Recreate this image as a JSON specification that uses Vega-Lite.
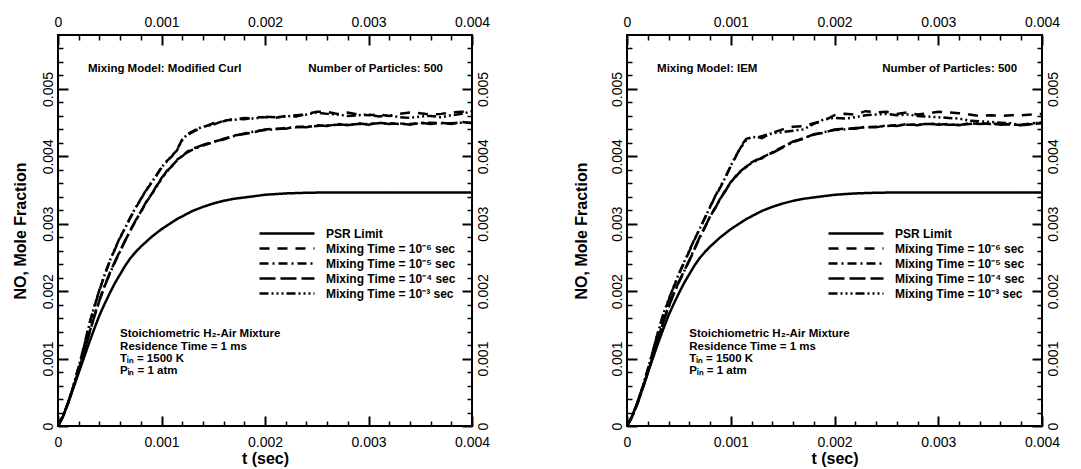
{
  "$schema": "https://vega.github.io/schema/vega-lite/v6.json",
  "padding": {"left": 11, "top": 14, "right": 0, "bottom": 0},
  "spacing": 81,
  "config": {
    "font": "Liberation Sans",
    "view": {"stroke": "black", "strokeWidth": 2},
    "axis": {"grid": false, "domain": false, "labelFont": "Liberation Sans", "labelFontSize": 14, "labelColor": "black", "tickColor": "black", "titleColor": "black", "labelFlush": false, "labelOverlap": false, "labelBound": false}
  },
  "resolve": {"scale": {"strokeDash": "independent"}, "legend": {"strokeDash": "independent"}},
  "datasets": {
    "curl": [
      {"t":0,"psr":0,"m6":0,"m5":0,"m4":0,"m3":0},
      {"t":0.00005,"psr":0.00015,"m6":0.00015,"m5":0.00015,"m4":0.00015,"m3":0.00015},
      {"t":0.0001,"psr":0.00035,"m6":0.00036,"m5":0.00035,"m4":0.00035,"m3":0.00036},
      {"t":0.00015,"psr":0.00057,"m6":0.0006,"m5":0.00058,"m4":0.00058,"m3":0.00061},
      {"t":0.0002,"psr":0.00079,"m6":0.00087,"m5":0.00083,"m4":0.00082,"m3":0.00088},
      {"t":0.00025,"psr":0.00101,"m6":0.00118,"m5":0.0011,"m4":0.00109,"m3":0.00117},
      {"t":0.0003,"psr":0.00123,"m6":0.0015,"m5":0.00137,"m4":0.00136,"m3":0.00149},
      {"t":0.00035,"psr":0.00144,"m6":0.00176,"m5":0.00163,"m4":0.00162,"m3":0.00177},
      {"t":0.0004,"psr":0.00164,"m6":0.00201,"m5":0.00187,"m4":0.00186,"m3":0.00202},
      {"t":0.00045,"psr":0.00181,"m6":0.00224,"m5":0.00208,"m4":0.00207,"m3":0.00224},
      {"t":0.0005,"psr":0.00197,"m6":0.00244,"m5":0.00226,"m4":0.00227,"m3":0.00245},
      {"t":0.00055,"psr":0.00212,"m6":0.00262,"m5":0.00243,"m4":0.00244,"m3":0.00263},
      {"t":0.0006,"psr":0.00225,"m6":0.00279,"m5":0.00259,"m4":0.0026,"m3":0.0028},
      {"t":0.00065,"psr":0.00238,"m6":0.00295,"m5":0.00276,"m4":0.00275,"m3":0.00294},
      {"t":0.0007,"psr":0.00249,"m6":0.00309,"m5":0.0029,"m4":0.00291,"m3":0.0031},
      {"t":0.00075,"psr":0.00258,"m6":0.00323,"m5":0.00304,"m4":0.00305,"m3":0.00324},
      {"t":0.0008,"psr":0.00266,"m6":0.00337,"m5":0.00318,"m4":0.00317,"m3":0.00336},
      {"t":0.00085,"psr":0.00273,"m6":0.00349,"m5":0.00331,"m4":0.00332,"m3":0.0035},
      {"t":0.0009,"psr":0.0028,"m6":0.0036,"m5":0.00343,"m4":0.00342,"m3":0.00361},
      {"t":0.00095,"psr":0.00286,"m6":0.00372,"m5":0.00354,"m4":0.00356,"m3":0.00371},
      {"t":0.001,"psr":0.00292,"m6":0.00383,"m5":0.00368,"m4":0.00366,"m3":0.00384},
      {"t":0.00105,"psr":0.00297,"m6":0.00393,"m5":0.00377,"m4":0.00378,"m3":0.00392},
      {"t":0.0011,"psr":0.00302,"m6":0.004,"m5":0.00386,"m4":0.00385,"m3":0.00401},
      {"t":0.00115,"psr":0.00307,"m6":0.0041,"m5":0.00394,"m4":0.00395,"m3":0.00409},
      {"t":0.0012,"psr":0.00311,"m6":0.00425,"m5":0.00401,"m4":0.004,"m3":0.00424},
      {"t":0.00125,"psr":0.00315,"m6":0.00432,"m5":0.00406,"m4":0.00407,"m3":0.00433},
      {"t":0.0013,"psr":0.00319,"m6":0.00436,"m5":0.0041,"m4":0.00411,"m3":0.00437},
      {"t":0.00135,"psr":0.00322,"m6":0.0044,"m5":0.00413,"m4":0.00414,"m3":0.00441},
      {"t":0.0014,"psr":0.00325,"m6":0.00443,"m5":0.00416,"m4":0.00417,"m3":0.00444},
      {"t":0.0015,"psr":0.0033,"m6":0.00449,"m5":0.00421,"m4":0.00422,"m3":0.00447},
      {"t":0.0016,"psr":0.00334,"m6":0.00452,"m5":0.00426,"m4":0.00425,"m3":0.00453},
      {"t":0.0017,"psr":0.00337,"m6":0.00456,"m5":0.0043,"m4":0.00431,"m3":0.00454},
      {"t":0.0018,"psr":0.00339,"m6":0.00455,"m5":0.00434,"m4":0.00433,"m3":0.00457},
      {"t":0.0019,"psr":0.00341,"m6":0.00458,"m5":0.00437,"m4":0.00436,"m3":0.00456},
      {"t":0.002,"psr":0.00343,"m6":0.00458,"m5":0.00439,"m4":0.0044,"m3":0.00459},
      {"t":0.0021,"psr":0.00344,"m6":0.00457,"m5":0.0044,"m4":0.00441,"m3":0.00458},
      {"t":0.0022,"psr":0.00345,"m6":0.0046,"m5":0.00442,"m4":0.00441,"m3":0.00459},
      {"t":0.0023,"psr":0.003455,"m6":0.00459,"m5":0.00443,"m4":0.00444,"m3":0.00461},
      {"t":0.0024,"psr":0.00346,"m6":0.00463,"m5":0.00444,"m4":0.00443,"m3":0.00462},
      {"t":0.0025,"psr":0.003462,"m6":0.00466,"m5":0.00445,"m4":0.00446,"m3":0.00465},
      {"t":0.0026,"psr":0.003463,"m6":0.00466,"m5":0.00446,"m4":0.00445,"m3":0.00463},
      {"t":0.0027,"psr":0.003464,"m6":0.00463,"m5":0.00447,"m4":0.00448,"m3":0.00462},
      {"t":0.0028,"psr":0.003465,"m6":0.00465,"m5":0.00447,"m4":0.00446,"m3":0.0046},
      {"t":0.0029,"psr":0.003465,"m6":0.00462,"m5":0.00448,"m4":0.00449,"m3":0.00461},
      {"t":0.003,"psr":0.003465,"m6":0.00461,"m5":0.00448,"m4":0.00447,"m3":0.00462},
      {"t":0.0031,"psr":0.003465,"m6":0.00462,"m5":0.00449,"m4":0.0045,"m3":0.00459},
      {"t":0.0032,"psr":0.003465,"m6":0.0046,"m5":0.00449,"m4":0.00448,"m3":0.00461},
      {"t":0.0033,"psr":0.003465,"m6":0.00463,"m5":0.00448,"m4":0.00449,"m3":0.00458},
      {"t":0.0034,"psr":0.003465,"m6":0.00465,"m5":0.00448,"m4":0.00447,"m3":0.00457},
      {"t":0.0035,"psr":0.003465,"m6":0.00464,"m5":0.00449,"m4":0.0045,"m3":0.00459},
      {"t":0.0036,"psr":0.003465,"m6":0.00462,"m5":0.0045,"m4":0.00448,"m3":0.0046},
      {"t":0.0037,"psr":0.003465,"m6":0.00463,"m5":0.00449,"m4":0.0045,"m3":0.00458},
      {"t":0.0038,"psr":0.003465,"m6":0.00465,"m5":0.00449,"m4":0.00448,"m3":0.00461},
      {"t":0.0039,"psr":0.003465,"m6":0.00466,"m5":0.0045,"m4":0.00451,"m3":0.00463},
      {"t":0.004,"psr":0.003465,"m6":0.00469,"m5":0.0045,"m4":0.00449,"m3":0.00467}
    ],
    "iem": [
      {"t":0,"psr":0,"m6":0,"m5":0,"m4":0,"m3":0},
      {"t":0.00005,"psr":0.00015,"m6":0.00014,"m5":0.00014,"m4":0.00014,"m3":0.00014},
      {"t":0.0001,"psr":0.00035,"m6":0.00034,"m5":0.00033,"m4":0.00033,"m3":0.00034},
      {"t":0.00015,"psr":0.00057,"m6":0.00057,"m5":0.00055,"m4":0.00055,"m3":0.00058},
      {"t":0.0002,"psr":0.00079,"m6":0.00083,"m5":0.00079,"m4":0.00078,"m3":0.00084},
      {"t":0.00025,"psr":0.00101,"m6":0.00111,"m5":0.00104,"m4":0.00104,"m3":0.00112},
      {"t":0.0003,"psr":0.00123,"m6":0.0014,"m5":0.0013,"m4":0.00129,"m3":0.00139},
      {"t":0.00035,"psr":0.00144,"m6":0.00165,"m5":0.00155,"m4":0.00154,"m3":0.00166},
      {"t":0.0004,"psr":0.00164,"m6":0.00186,"m5":0.00177,"m4":0.00176,"m3":0.00187},
      {"t":0.00045,"psr":0.00181,"m6":0.00206,"m5":0.00196,"m4":0.00197,"m3":0.00207},
      {"t":0.0005,"psr":0.00197,"m6":0.00225,"m5":0.00213,"m4":0.00214,"m3":0.00226},
      {"t":0.00055,"psr":0.00212,"m6":0.00242,"m5":0.00229,"m4":0.0023,"m3":0.00243},
      {"t":0.0006,"psr":0.00225,"m6":0.00259,"m5":0.00246,"m4":0.00245,"m3":0.0026},
      {"t":0.00065,"psr":0.00238,"m6":0.00276,"m5":0.00263,"m4":0.00262,"m3":0.00277},
      {"t":0.0007,"psr":0.00249,"m6":0.00293,"m5":0.00279,"m4":0.0028,"m3":0.00292},
      {"t":0.00075,"psr":0.00258,"m6":0.00308,"m5":0.00295,"m4":0.00294,"m3":0.00309},
      {"t":0.0008,"psr":0.00266,"m6":0.00325,"m5":0.0031,"m4":0.00311,"m3":0.00324},
      {"t":0.00085,"psr":0.00273,"m6":0.0034,"m5":0.00324,"m4":0.00323,"m3":0.00341},
      {"t":0.0009,"psr":0.0028,"m6":0.00354,"m5":0.00337,"m4":0.00338,"m3":0.00355},
      {"t":0.00095,"psr":0.00286,"m6":0.0037,"m5":0.0035,"m4":0.00349,"m3":0.00369},
      {"t":0.001,"psr":0.00292,"m6":0.00385,"m5":0.00361,"m4":0.00362,"m3":0.00386},
      {"t":0.00105,"psr":0.00297,"m6":0.004,"m5":0.00371,"m4":0.0037,"m3":0.00401},
      {"t":0.0011,"psr":0.00302,"m6":0.00416,"m5":0.00378,"m4":0.00379,"m3":0.00414},
      {"t":0.00115,"psr":0.00307,"m6":0.00426,"m5":0.00385,"m4":0.00384,"m3":0.00424},
      {"t":0.0012,"psr":0.00311,"m6":0.00428,"m5":0.0039,"m4":0.00391,"m3":0.00429},
      {"t":0.00125,"psr":0.00315,"m6":0.00429,"m5":0.00394,"m4":0.00395,"m3":0.00428},
      {"t":0.0013,"psr":0.00319,"m6":0.00427,"m5":0.00398,"m4":0.00397,"m3":0.0043},
      {"t":0.00135,"psr":0.00322,"m6":0.00431,"m5":0.00402,"m4":0.00403,"m3":0.00432},
      {"t":0.0014,"psr":0.00325,"m6":0.00435,"m5":0.00406,"m4":0.00405,"m3":0.00434},
      {"t":0.0015,"psr":0.0033,"m6":0.0044,"m5":0.00414,"m4":0.00413,"m3":0.00436},
      {"t":0.0016,"psr":0.00334,"m6":0.00444,"m5":0.00421,"m4":0.00422,"m3":0.00438},
      {"t":0.0017,"psr":0.00337,"m6":0.00445,"m5":0.00427,"m4":0.00426,"m3":0.0044},
      {"t":0.0018,"psr":0.00339,"m6":0.00449,"m5":0.00432,"m4":0.00433,"m3":0.00448},
      {"t":0.0019,"psr":0.00341,"m6":0.00453,"m5":0.00436,"m4":0.00435,"m3":0.00455},
      {"t":0.002,"psr":0.00343,"m6":0.00461,"m5":0.00439,"m4":0.0044,"m3":0.00457},
      {"t":0.0021,"psr":0.00344,"m6":0.00463,"m5":0.0044,"m4":0.00441,"m3":0.00456},
      {"t":0.0022,"psr":0.00345,"m6":0.00462,"m5":0.00442,"m4":0.00441,"m3":0.00458},
      {"t":0.0023,"psr":0.003455,"m6":0.00467,"m5":0.00443,"m4":0.00444,"m3":0.00461},
      {"t":0.0024,"psr":0.00346,"m6":0.00465,"m5":0.00444,"m4":0.00443,"m3":0.00462},
      {"t":0.0025,"psr":0.003462,"m6":0.00466,"m5":0.00445,"m4":0.00446,"m3":0.00463},
      {"t":0.0026,"psr":0.003463,"m6":0.00463,"m5":0.00446,"m4":0.00445,"m3":0.00461},
      {"t":0.0027,"psr":0.003464,"m6":0.00465,"m5":0.00447,"m4":0.00448,"m3":0.00462},
      {"t":0.0028,"psr":0.003465,"m6":0.00462,"m5":0.00447,"m4":0.00446,"m3":0.0046},
      {"t":0.0029,"psr":0.003465,"m6":0.00464,"m5":0.00448,"m4":0.00449,"m3":0.00459},
      {"t":0.003,"psr":0.003465,"m6":0.00466,"m5":0.00448,"m4":0.00447,"m3":0.00458},
      {"t":0.0031,"psr":0.003465,"m6":0.00465,"m5":0.00447,"m4":0.00448,"m3":0.00457},
      {"t":0.0032,"psr":0.003465,"m6":0.00464,"m5":0.00447,"m4":0.00446,"m3":0.00456},
      {"t":0.0033,"psr":0.003465,"m6":0.00462,"m5":0.00448,"m4":0.00449,"m3":0.00453},
      {"t":0.0034,"psr":0.003465,"m6":0.0046,"m5":0.00449,"m4":0.00448,"m3":0.00452},
      {"t":0.0035,"psr":0.003465,"m6":0.00461,"m5":0.00448,"m4":0.00449,"m3":0.00451},
      {"t":0.0036,"psr":0.003465,"m6":0.0046,"m5":0.00448,"m4":0.00447,"m3":0.0045},
      {"t":0.0037,"psr":0.003465,"m6":0.00461,"m5":0.00447,"m4":0.00448,"m3":0.00449},
      {"t":0.0038,"psr":0.003465,"m6":0.00461,"m5":0.00447,"m4":0.00446,"m3":0.00446},
      {"t":0.0039,"psr":0.003465,"m6":0.00462,"m5":0.00449,"m4":0.00448,"m3":0.00448},
      {"t":0.004,"psr":0.003465,"m6":0.00463,"m5":0.0045,"m4":0.00449,"m3":0.00451}
    ]
  },
  "hconcat": [
    {
      "width": 414,
      "height": 391,
      "data": {"name": "curl"},
      "transform": [{"fold": ["psr", "m6", "m5", "m4", "m3"], "as": ["series", "v"]}],
      "layer": [
        {
          "mark": {"type": "line", "strokeWidth": 2.5, "color": "black", "clip": true},
          "encoding": {
            "x": {"field": "t", "type": "quantitative", "scale": {"domain": [0, 0.004], "nice": false, "zero": false},
              "axis": {"orient": "bottom", "values": [0, 0.001, 0.002, 0.003, 0.004], "tickSize": -10, "tickWidth": 2, "labelPadding": 19, "labelExpr": "datum.value == 0 ? '0' : format(datum.value, '.3f')", "title": "t (sec)", "titleFontSize": 16, "titleFontWeight": "bold", "titlePadding": 1}},
            "y": {"field": "v", "type": "quantitative", "scale": {"domain": [0, 0.0058], "nice": false},
              "axis": {"orient": "left", "values": [0, 0.001, 0.002, 0.003, 0.004, 0.005], "tickSize": -10, "tickWidth": 2, "labelPadding": 13, "labelAngle": -90, "labelAlign": "center", "labelBaseline": "bottom", "labelExpr": "datum.value == 0 ? '0' : format(datum.value, '.3f')", "title": "NO, Mole Fraction", "titleFontSize": 16, "titleFontWeight": "bold", "titlePadding": 13}},
            "strokeDash": {"field": "series", "type": "nominal",
              "scale": {"domain": ["psr", "m6", "m5", "m4", "m3"], "range": [[1, 0], [10, 8], [9, 4, 2, 4], [16, 5], [9, 3, 2, 3, 2, 3, 2, 3]]},
              "legend": {"orient": "none", "legendX": 245, "legendY": 192, "title": null, "symbolType": "M-10,0H1", "symbolSize": 100, "symbolStrokeWidth": 2.5, "symbolStrokeColor": "black", "labelFontSize": 12, "labelFontWeight": "bold", "labelColor": "black", "labelOffset": 10, "labelLimit": 400, "padding": 0, "rowPadding": 2,
                "labelExpr": "datum.label == 'psr' ? 'PSR Limit' : datum.label == 'm6' ? 'Mixing Time = 10⁻⁶ sec' : datum.label == 'm5' ? 'Mixing Time = 10⁻⁵ sec' : datum.label == 'm4' ? 'Mixing Time = 10⁻⁴ sec' : 'Mixing Time = 10⁻³ sec'"}}
          }
        },
        {
          "mark": {"type": "point", "opacity": 0},
          "encoding": {
            "x": {"field": "t", "type": "quantitative", "axis": {"orient": "bottom", "values": [0.0002, 0.0004, 0.0006, 0.0008, 0.0012, 0.0014, 0.0016, 0.0018, 0.0022, 0.0024, 0.0026, 0.0028, 0.0032, 0.0034, 0.0036, 0.0038], "tickSize": -5, "tickWidth": 1.5, "labels": false, "title": null}},
            "y": {"field": "v", "type": "quantitative", "axis": {"orient": "left", "values": [0.0002, 0.0004, 0.0006, 0.0008, 0.0012, 0.0014, 0.0016, 0.0018, 0.0022, 0.0024, 0.0026, 0.0028, 0.0032, 0.0034, 0.0036, 0.0038, 0.0042, 0.0044, 0.0046, 0.0048, 0.0052, 0.0054, 0.0056], "tickSize": -5, "tickWidth": 1.5, "labels": false, "title": null}}
          }
        },
        {
          "mark": {"type": "point", "opacity": 0},
          "encoding": {
            "x": {"field": "t", "type": "quantitative", "axis": {"orient": "top", "values": [0, 0.001, 0.002, 0.003, 0.004], "tickSize": -10, "tickWidth": 2, "labelPadding": 16, "labelExpr": "datum.value == 0 ? '0' : format(datum.value, '.3f')", "title": null}},
            "y": {"field": "v", "type": "quantitative", "axis": {"orient": "right", "values": [0, 0.001, 0.002, 0.003, 0.004, 0.005], "tickSize": -10, "tickWidth": 2, "labelPadding": 14, "labelAngle": -90, "labelAlign": "center", "labelBaseline": "top", "labelExpr": "datum.value == 0 ? '0' : format(datum.value, '.3f')", "title": null}}
          }
        },
        {
          "mark": {"type": "point", "opacity": 0},
          "encoding": {
            "x": {"field": "t", "type": "quantitative", "axis": {"orient": "top", "values": [0.0002, 0.0004, 0.0006, 0.0008, 0.0012, 0.0014, 0.0016, 0.0018, 0.0022, 0.0024, 0.0026, 0.0028, 0.0032, 0.0034, 0.0036, 0.0038], "tickSize": -5, "tickWidth": 1.5, "labels": false, "title": null}},
            "y": {"field": "v", "type": "quantitative", "axis": {"orient": "right", "values": [0.0002, 0.0004, 0.0006, 0.0008, 0.0012, 0.0014, 0.0016, 0.0018, 0.0022, 0.0024, 0.0026, 0.0028, 0.0032, 0.0034, 0.0036, 0.0038, 0.0042, 0.0044, 0.0046, 0.0048, 0.0052, 0.0054, 0.0056], "tickSize": -5, "tickWidth": 1.5, "labels": false, "title": null}}
          }
        },
        {
          "data": {"values": [{}]},
          "mark": {"type": "text", "align": "left", "baseline": "middle", "fontSize": 11.5, "fontWeight": "bold", "color": "black"},
          "encoding": {"x": {"datum": 0.00029, "type": "quantitative", "axis": null}, "y": {"datum": 0.0053, "type": "quantitative", "axis": null}, "text": {"value": "Mixing Model: Modified Curl"}}
        },
        {
          "data": {"values": [{}]},
          "mark": {"type": "text", "align": "right", "baseline": "middle", "fontSize": 11.5, "fontWeight": "bold", "color": "black"},
          "encoding": {"x": {"datum": 0.00372, "type": "quantitative", "axis": null}, "y": {"datum": 0.0053, "type": "quantitative", "axis": null}, "text": {"value": "Number of Particles: 500"}}
        },
        {
          "data": {"values": [{}]},
          "mark": {"type": "text", "align": "left", "baseline": "middle", "fontSize": 11.5, "fontWeight": "bold", "color": "black", "lineHeight": 12.3},
          "encoding": {"x": {"datum": 0.0006, "type": "quantitative", "axis": null}, "y": {"datum": 0.00136, "type": "quantitative", "axis": null}, "text": {"value": ["Stoichiometric H₂-Air Mixture", "Residence Time = 1 ms", "Tᵢₙ = 1500 K", "Pᵢₙ = 1 atm"]}}
        }
      ],
      "resolve": {"axis": {"x": "independent", "y": "independent"}}
    },
    {
      "width": 415,
      "height": 391,
      "data": {"name": "iem"},
      "transform": [{"fold": ["psr", "m6", "m5", "m4", "m3"], "as": ["series", "v"]}],
      "layer": [
        {
          "mark": {"type": "line", "strokeWidth": 2.5, "color": "black", "clip": true},
          "encoding": {
            "x": {"field": "t", "type": "quantitative", "scale": {"domain": [0, 0.004], "nice": false, "zero": false},
              "axis": {"orient": "bottom", "values": [0, 0.001, 0.002, 0.003, 0.004], "tickSize": -10, "tickWidth": 2, "labelPadding": 19, "labelExpr": "datum.value == 0 ? '0' : format(datum.value, '.3f')", "title": "t (sec)", "titleFontSize": 16, "titleFontWeight": "bold", "titlePadding": 1}},
            "y": {"field": "v", "type": "quantitative", "scale": {"domain": [0, 0.0058], "nice": false},
              "axis": {"orient": "left", "values": [0, 0.001, 0.002, 0.003, 0.004, 0.005], "tickSize": -10, "tickWidth": 2, "labelPadding": 13, "labelAngle": -90, "labelAlign": "center", "labelBaseline": "bottom", "labelExpr": "datum.value == 0 ? '0' : format(datum.value, '.3f')", "title": "NO, Mole Fraction", "titleFontSize": 16, "titleFontWeight": "bold", "titlePadding": 21}},
            "strokeDash": {"field": "series", "type": "nominal",
              "scale": {"domain": ["psr", "m6", "m5", "m4", "m3"], "range": [[1, 0], [10, 8], [9, 4, 2, 4], [16, 5], [9, 3, 2, 3, 2, 3, 2, 3]]},
              "legend": {"orient": "none", "legendX": 245, "legendY": 192, "title": null, "symbolType": "M-10,0H1", "symbolSize": 100, "symbolStrokeWidth": 2.5, "symbolStrokeColor": "black", "labelFontSize": 12, "labelFontWeight": "bold", "labelColor": "black", "labelOffset": 10, "labelLimit": 400, "padding": 0, "rowPadding": 2,
                "labelExpr": "datum.label == 'psr' ? 'PSR Limit' : datum.label == 'm6' ? 'Mixing Time = 10⁻⁶ sec' : datum.label == 'm5' ? 'Mixing Time = 10⁻⁵ sec' : datum.label == 'm4' ? 'Mixing Time = 10⁻⁴ sec' : 'Mixing Time = 10⁻³ sec'"}}
          }
        },
        {
          "mark": {"type": "point", "opacity": 0},
          "encoding": {
            "x": {"field": "t", "type": "quantitative", "axis": {"orient": "bottom", "values": [0.0002, 0.0004, 0.0006, 0.0008, 0.0012, 0.0014, 0.0016, 0.0018, 0.0022, 0.0024, 0.0026, 0.0028, 0.0032, 0.0034, 0.0036, 0.0038], "tickSize": -5, "tickWidth": 1.5, "labels": false, "title": null}},
            "y": {"field": "v", "type": "quantitative", "axis": {"orient": "left", "values": [0.0002, 0.0004, 0.0006, 0.0008, 0.0012, 0.0014, 0.0016, 0.0018, 0.0022, 0.0024, 0.0026, 0.0028, 0.0032, 0.0034, 0.0036, 0.0038, 0.0042, 0.0044, 0.0046, 0.0048, 0.0052, 0.0054, 0.0056], "tickSize": -5, "tickWidth": 1.5, "labels": false, "title": null}}
          }
        },
        {
          "mark": {"type": "point", "opacity": 0},
          "encoding": {
            "x": {"field": "t", "type": "quantitative", "axis": {"orient": "top", "values": [0, 0.001, 0.002, 0.003, 0.004], "tickSize": -10, "tickWidth": 2, "labelPadding": 16, "labelExpr": "datum.value == 0 ? '0' : format(datum.value, '.3f')", "title": null}},
            "y": {"field": "v", "type": "quantitative", "axis": {"orient": "right", "values": [0, 0.001, 0.002, 0.003, 0.004, 0.005], "tickSize": -10, "tickWidth": 2, "labelPadding": 14, "labelAngle": -90, "labelAlign": "center", "labelBaseline": "top", "labelExpr": "datum.value == 0 ? '0' : format(datum.value, '.3f')", "title": null}}
          }
        },
        {
          "mark": {"type": "point", "opacity": 0},
          "encoding": {
            "x": {"field": "t", "type": "quantitative", "axis": {"orient": "top", "values": [0.0002, 0.0004, 0.0006, 0.0008, 0.0012, 0.0014, 0.0016, 0.0018, 0.0022, 0.0024, 0.0026, 0.0028, 0.0032, 0.0034, 0.0036, 0.0038], "tickSize": -5, "tickWidth": 1.5, "labels": false, "title": null}},
            "y": {"field": "v", "type": "quantitative", "axis": {"orient": "right", "values": [0.0002, 0.0004, 0.0006, 0.0008, 0.0012, 0.0014, 0.0016, 0.0018, 0.0022, 0.0024, 0.0026, 0.0028, 0.0032, 0.0034, 0.0036, 0.0038, 0.0042, 0.0044, 0.0046, 0.0048, 0.0052, 0.0054, 0.0056], "tickSize": -5, "tickWidth": 1.5, "labels": false, "title": null}}
          }
        },
        {
          "data": {"values": [{}]},
          "mark": {"type": "text", "align": "left", "baseline": "middle", "fontSize": 11.5, "fontWeight": "bold", "color": "black"},
          "encoding": {"x": {"datum": 0.00029, "type": "quantitative", "axis": null}, "y": {"datum": 0.0053, "type": "quantitative", "axis": null}, "text": {"value": "Mixing Model: IEM"}}
        },
        {
          "data": {"values": [{}]},
          "mark": {"type": "text", "align": "right", "baseline": "middle", "fontSize": 11.5, "fontWeight": "bold", "color": "black"},
          "encoding": {"x": {"datum": 0.00376, "type": "quantitative", "axis": null}, "y": {"datum": 0.0053, "type": "quantitative", "axis": null}, "text": {"value": "Number of Particles: 500"}}
        },
        {
          "data": {"values": [{}]},
          "mark": {"type": "text", "align": "left", "baseline": "middle", "fontSize": 11.5, "fontWeight": "bold", "color": "black", "lineHeight": 12.3},
          "encoding": {"x": {"datum": 0.0006, "type": "quantitative", "axis": null}, "y": {"datum": 0.00136, "type": "quantitative", "axis": null}, "text": {"value": ["Stoichiometric H₂-Air Mixture", "Residence Time = 1 ms", "Tᵢₙ = 1500 K", "Pᵢₙ = 1 atm"]}}
        }
      ],
      "resolve": {"axis": {"x": "independent", "y": "independent"}}
    }
  ]
}
